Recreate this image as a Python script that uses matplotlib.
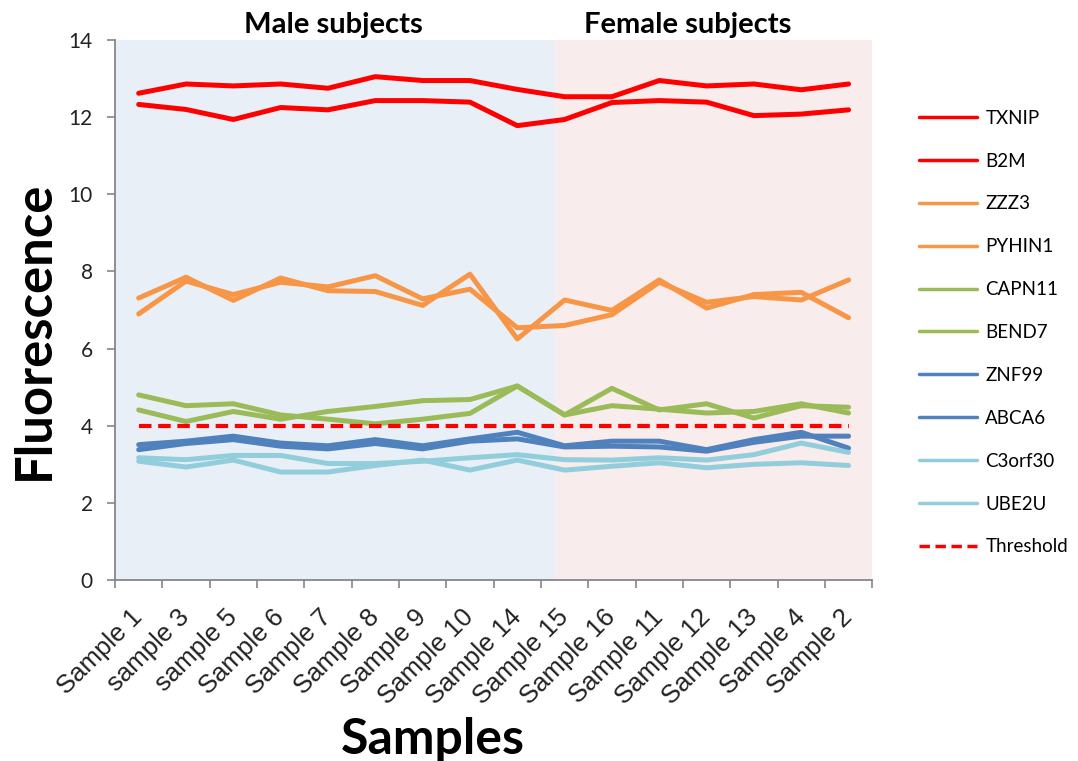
import matplotlib.pyplot as plt

# Datos
muestras = ["Sample 1", "sample 3", "sample 5", "Sample 6", "Sample 7", "Sample 8",
            "Sample 9", "Sample 10", "Sample 14", "Sample 15", "Sample 16",
            "Sample 11", "Sample 12", "Sample 13", "Sample 4", "Sample 2"]

txnip = [12.62, 12.86, 12.81, 12.86, 12.75, 13.05, 12.95, 12.95, 12.72, 12.53, 12.53,
         12.95, 12.81, 12.86, 12.71, 12.86]
b2m = [12.33, 12.20, 11.94, 12.25, 12.19, 12.43, 12.43, 12.39, 11.78, 11.94, 12.38,
       12.43, 12.39, 12.04, 12.08, 12.19]
zzz3 = [7.31, 7.85, 7.25, 7.83, 7.50, 7.48, 7.12, 7.93, 6.25, 7.26, 6.99,
        7.78, 7.05, 7.40, 7.46, 6.80]
pyhin1 = [6.90, 7.75, 7.40, 7.72, 7.60, 7.89, 7.29, 7.54, 6.54, 6.60, 6.88,
          7.72, 7.20, 7.35, 7.26, 7.78]
capn11 = [4.80, 4.52, 4.57, 4.28, 4.17, 4.05, 4.17, 4.32, 5.03, 4.28, 4.97,
          4.41, 4.57, 4.20, 4.52, 4.48]
bend7 = [4.41, 4.11, 4.37, 4.17, 4.37, 4.50, 4.65, 4.68, 5.03, 4.28, 4.52,
         4.43, 4.33, 4.37, 4.57, 4.33]
znf99 = [3.51, 3.60, 3.73, 3.55, 3.48, 3.64, 3.48, 3.66, 3.83, 3.48, 3.60,
         3.60, 3.38, 3.64, 3.83, 3.42]
abca6 = [3.38, 3.54, 3.64, 3.47, 3.40, 3.54, 3.40, 3.60, 3.66, 3.45, 3.47,
         3.45, 3.34, 3.57, 3.73, 3.73]
c3orf30 = [3.17, 3.12, 3.23, 3.23, 3.02, 3.02, 3.08, 3.17, 3.25, 3.12, 3.11,
           3.17, 3.11, 3.25, 3.55, 3.31]
ube2u = [3.08, 2.93, 3.11, 2.80, 2.80, 2.97, 3.11, 2.85, 3.11, 2.85, 2.95,
         3.04, 2.91, 3.00, 3.04, 2.97]
umbral = [4.0] * len(muestras)

series = [("TXNIP", txnip, "#FF0000"), ("B2M", b2m, "#FF0000"),
          ("ZZZ3", zzz3, "#F79646"), ("PYHIN1", pyhin1, "#F79646"),
          ("CAPN11", capn11, "#9BBB59"), ("BEND7", bend7, "#9BBB59"),
          ("ZNF99", znf99, "#4F81BD"), ("ABCA6", abca6, "#4F81BD"),
          ("C3orf30", c3orf30, "#92CDDC"), ("UBE2U", ube2u, "#92CDDC")]

fig = plt.figure(figsize=(10.78, 7.61), dpi=100)
ax = fig.add_axes([0.1067, 0.2378, 0.7024, 0.7096])

x = list(range(len(muestras)))

# Fondos de hombres / mujeres
ax.axvspan(-0.5, 8.8, color="#E9EFF7", lw=0, zorder=0)
ax.axvspan(8.8, 15.5, color="#F9ECEC", lw=0, zorder=0)

lineas = []
for nombre, valores, color in series:
    l, = ax.plot(x, valores, color=color, lw=3.6, label=nombre, zorder=2,
                 solid_joinstyle="round", solid_capstyle="round")
    lineas.append(l)
l_umbral, = ax.plot(x, umbral, color="#FF0000", lw=3.0, ls=(0, (3, 1.6)),
                    label="Threshold", zorder=3)
lineas.append(l_umbral)

ax.set_xlim(-0.5, 15.5)
ax.set_ylim(0, 14)
ax.set_yticks(range(0, 15, 2))

# Ejes estilo Excel
for lado in ["top", "right"]:
    ax.spines[lado].set_visible(False)
for lado in ["left", "bottom"]:
    ax.spines[lado].set_color("#868686")
    ax.spines[lado].set_linewidth(1.3)

ax.set_xticks([i - 0.5 for i in range(len(muestras) + 1)])
ax.set_xticklabels([])
ax.set_xticks(x, minor=True)
ax.set_xticklabels(muestras, minor=True, rotation=45, ha="right", va="center",
                   rotation_mode="anchor", fontsize=18.5, family="Liberation Sans",
                   color="#222222")
ax.tick_params(axis="x", which="minor", length=0, pad=24)
ax.tick_params(axis="x", which="major", length=6, width=1.2, color="#868686")
ax.tick_params(axis="y", length=6, width=1.2, color="#868686", pad=10,
               labelsize=15, labelcolor="#222222")
for t in ax.get_yticklabels():
    t.set_family("Lato")

ax.set_ylabel("Fluorescence", fontsize=36.5, fontweight="bold", family="Lato")
ax.yaxis.set_label_coords(-0.075, 0.462)
ax.set_xlabel("Samples", fontsize=36, fontweight="bold", family="Lato")
ax.xaxis.set_label_coords(0.42, -0.295)
ax.xaxis.label.set_va("center")

fig.text(333 / 1078, 1 - 25 / 761, "Male subjects", ha="center", va="center",
         fontsize=21, fontweight="bold", family="Lato")
fig.text(688 / 1078, 1 - 25 / 761, "Female subjects", ha="center", va="center",
         fontsize=21, fontweight="bold", family="Lato")

leg = fig.legend(handles=lineas, loc="center left", bbox_to_anchor=(0.844, 0.563),
                 frameon=False, handlelength=3.1, handletextpad=0.43,
                 labelspacing=1.38, borderpad=0, prop={"family": "Lato", "size": 13.5})
for h in leg.get_lines():
    h.set_linewidth(2.5)

fig.savefig("out.png", dpi=100)
